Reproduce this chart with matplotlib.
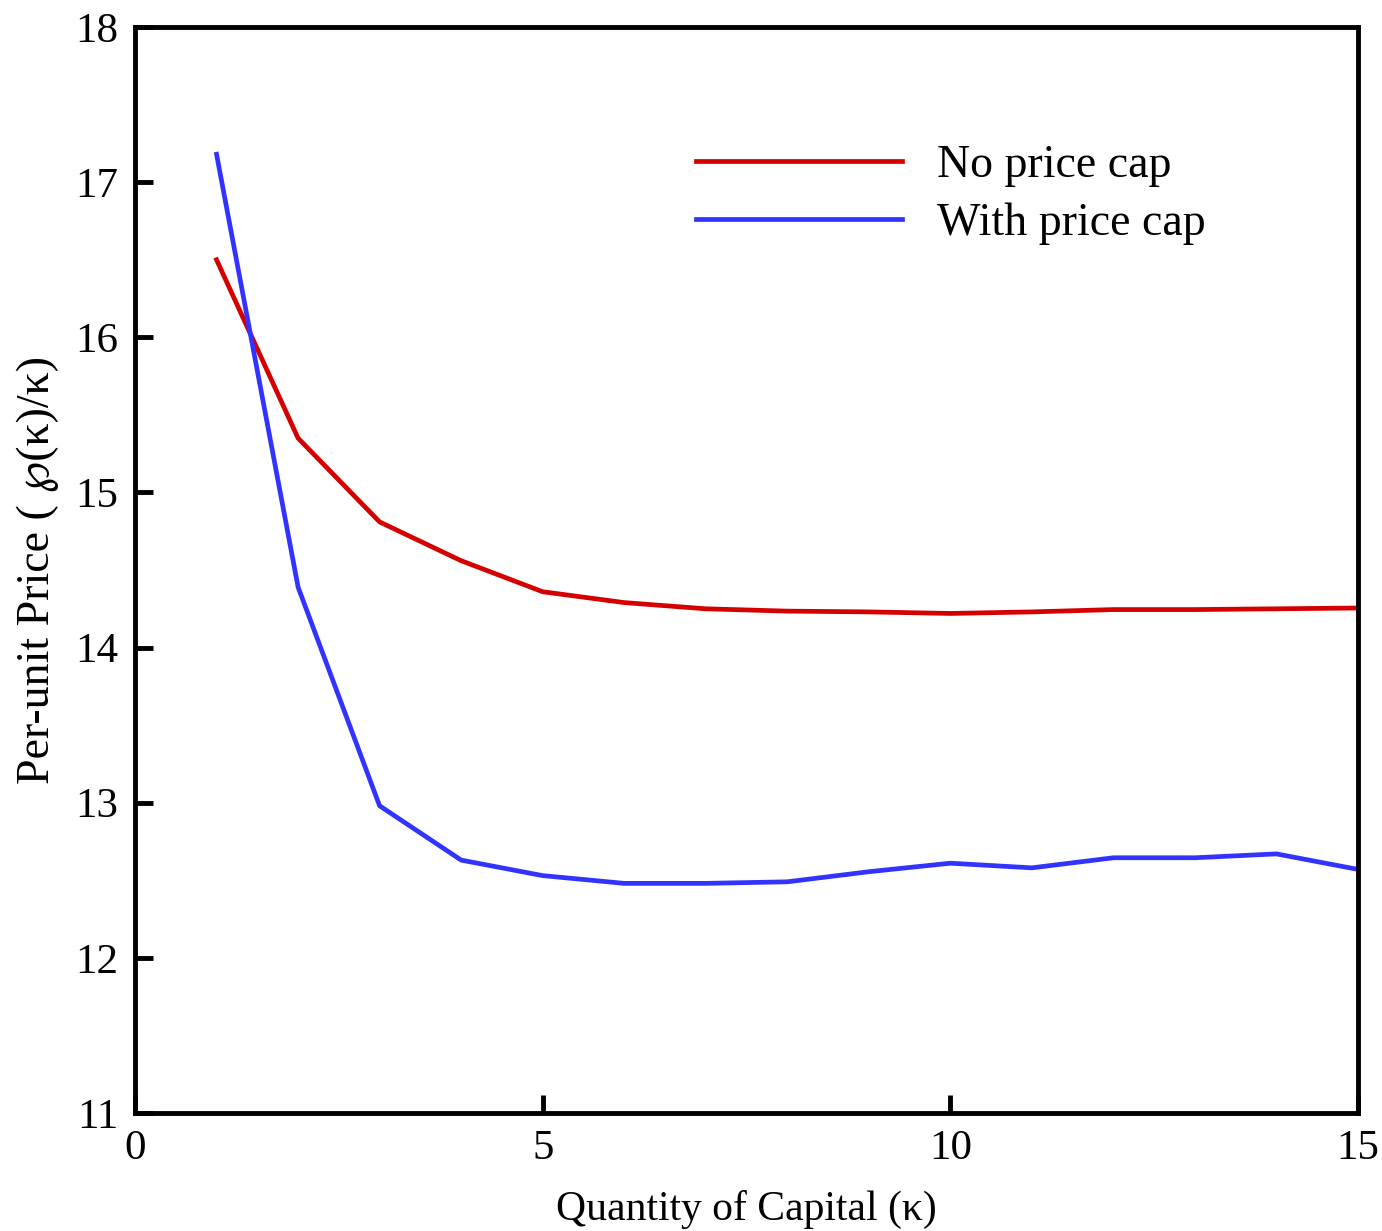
import matplotlib.pyplot as plt

plt.rcParams['font.family'] = ['Liberation Serif', 'DejaVu Serif', 'DejaVu Sans']

# Quantity of capital
kappa = [1, 2, 3, 4, 5, 6, 7, 8, 9, 10, 11, 12, 13, 14, 15]
# Per-unit price, no cap and with cap
no_cap = [16.50, 15.35, 14.81, 14.56, 14.36, 14.29, 14.25, 14.235, 14.23, 14.22,
          14.23, 14.245, 14.245, 14.25, 14.255]
with_cap = [17.18, 14.39, 12.98, 12.63, 12.53, 12.48, 12.48, 12.49, 12.555, 12.61,
            12.58, 12.645, 12.645, 12.67, 12.57]

fig = plt.figure(figsize=(13.82, 12.31), dpi=100)
ax = fig.add_axes([0.0977, 0.0959, 0.8849, 0.8821])

ax.plot(kappa, no_cap, color='#d40000', lw=3.4, label='No price cap')
ax.plot(kappa, with_cap, color='#3333ff', lw=3.4, label='With price cap')

ax.set_xlim(0, 15)
ax.set_ylim(11, 18)
ax.set_xticks([0, 5, 10, 15])
ax.set_yticks(range(11, 19))
ax.tick_params(direction='in', length=13, width=3.5, labelsize=31, pad=12)
for s in ax.spines.values():
    s.set_linewidth(3.5)

ax.set_xlabel('Quantity of Capital (\u03ba)', fontsize=30, labelpad=16)
ax.set_ylabel('Per-unit Price ( \u2118(\u03ba)/\u03ba)', fontsize=33, labelpad=12)

ax.legend(loc='upper left', bbox_to_anchor=(0.425, 0.93), frameon=False,
          fontsize=33, handlelength=4.5, handletextpad=0.75, labelspacing=0.35)

fig.savefig('out.png', dpi=100)
